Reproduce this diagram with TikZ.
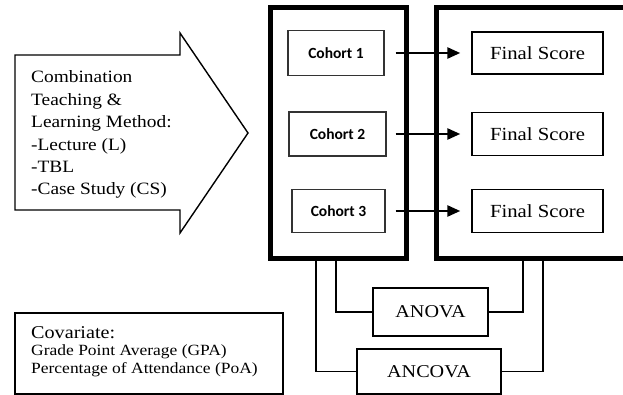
\documentclass[tikz,border=0pt]{standalone}
\usepackage{fontspec}
\setmainfont{Liberation Serif}[FakeStretch=1.12]
\newfontfamily\cohortfont{Carlito}
\usetikzlibrary{arrows.meta}
\tikzset{
  bigbox/.style={draw, line width=5pt, inner sep=0pt},
  smallbox/.style={draw, line width=1.4pt, inner sep=0pt},
  cohortbox/.style={smallbox, draw=black!80, font=\cohortfont\bfseries\fontsize{15.5}{18}\selectfont},
  scorebox/.style={smallbox, minimum width=131pt, minimum height=43pt, font=\fontsize{18.5}{22}\selectfont},
  statbox/.style={smallbox, fill=white, font=\fontsize{18}{22}\selectfont},
  conn/.style={line width=1.6pt},
  arr/.style={line width=2.5pt, -{Triangle[length=13pt,width=11pt]}},
  arrowtext/.style={anchor=base west, inner sep=0pt, font=\fontsize{17.3}{20}\selectfont},
  covtext/.style={anchor=base west, inner sep=0pt, font=\fontsize{15.6}{18}\selectfont},
}
\begin{document}
\begin{tikzpicture}[x=1pt, y=-1pt]
\useasboundingbox (0,0) rectangle (623,395);
\clip (0,0) rectangle (623,395);
\fill[white] (0,0) rectangle (623,395);

% big block arrow
\draw[line width=1.4pt, line join=miter] (15,55) -- (180,55) -- (180,33) -- (248,133) -- (180,233) -- (180,210) -- (15,210) -- cycle;
\node[arrowtext] (t1) at (31,83) {Combination};
\node[arrowtext] (t2) at (31,105.4) {Teaching \&};
\node[arrowtext] (t3) at (31,127.8) {Learning Method:};
\node[arrowtext] (t4) at (31,150.2) {-Lecture (L)};
\node[arrowtext] (t5) at (31,172.6) {-TBL};
\node[arrowtext] (t6) at (31,195) {-Case Study (CS)};

% big boxes
\node[bigbox, minimum width=136pt, minimum height=250.5pt] (lb) at (338.5,132.75) {};
\node[bigbox, minimum width=203.5pt, minimum height=250.5pt] (rb) at (538.25,132.75) {};

% cohorts
\node[cohortbox, minimum width=96pt, minimum height=45pt] (c1) at (336,53) {Cohort 1};
\node[cohortbox, minimum width=97pt, minimum height=44pt] (c2) at (337.5,134) {Cohort 2};
\node[cohortbox, minimum width=93pt, minimum height=43pt] (c3) at (338.5,211) {Cohort 3};

% final scores
\node[scorebox, minimum height=42pt] (f1) at (537.5,53) {Final Score};
\node[scorebox] (f2) at (537.5,134) {Final Score};
\node[scorebox] (f3) at (537.5,211) {Final Score};

\draw[arr] ([xshift=11pt]c1.east) -- ([xshift=-11pt]f1.west);
\draw[arr] ([xshift=9pt]c2.east) -- ([xshift=-11pt]f2.west);
\draw[arr] ([xshift=10pt]c3.east) -- ([xshift=-11pt]f3.west);

% statistics
\node[statbox, minimum width=115pt, minimum height=48pt] (anova) at (430.5,312) {ANOVA};
\node[statbox, minimum width=144pt, minimum height=45pt] (ancova) at (429,371.5) {ANCOVA};

\coordinate (xl1) at (316,0);
\coordinate (xl2) at (336,0);
\coordinate (xr1) at (523,0);
\coordinate (xr2) at (543,0);
\draw[conn] (anova.west) -| (xl2 |- lb.south);
\draw[conn] (anova.east) -| (xr1 |- rb.south);
\draw[conn] (ancova.west) -| (xl1 |- lb.south);
\draw[conn] (ancova.east) -| (xr2 |- rb.south);

% covariate box
\node[smallbox, minimum width=268pt, minimum height=81pt] (cov) at (149,353.5) {};
\node[anchor=base west, inner sep=0pt, font=\fontsize{18}{20}\selectfont] (cv1) at (31,338) {Covariate:};
\node[covtext] (cv2) at (31,355.5) {Grade Point Average (GPA)};
\node[covtext] (cv3) at (31,373) {Percentage of Attendance (PoA)};
\end{tikzpicture}
\end{document}
